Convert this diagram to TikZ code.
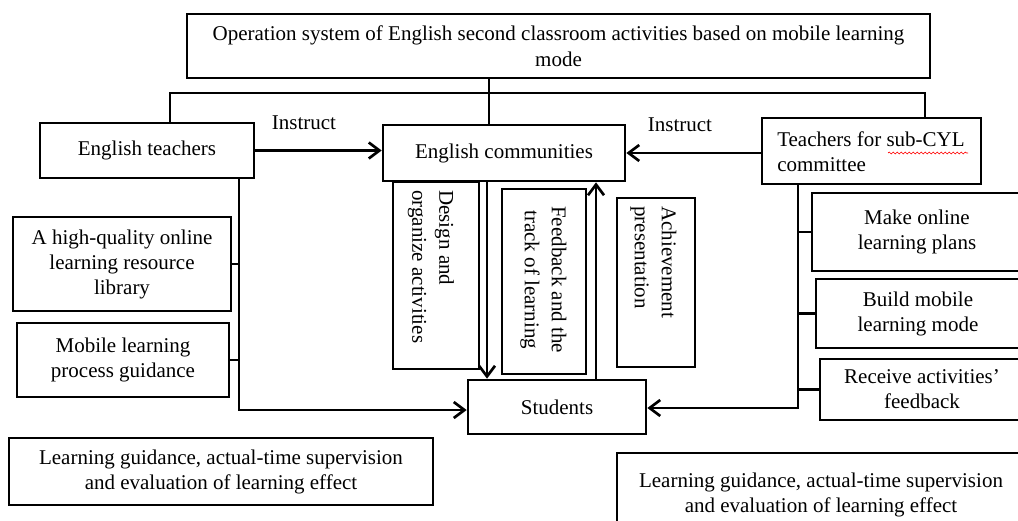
\documentclass[tikz,border=0pt]{standalone}
\usepackage{fontspec}
\setmainfont{Liberation Serif}
\usetikzlibrary{arrows.meta,decorations.pathmorphing}
\tikzset{
  bx/.style 2 args={draw, line width=2pt, minimum width=#1*0.75pt, minimum height=#2*0.75pt, inner sep=0pt, align=center,
    font=\fontsize{15.75pt}{18.75pt}\selectfont},
  txt/.style={inner sep=0pt, font=\fontsize{15.75pt}{18.75pt}\selectfont},
  rtxt/.style={inner sep=0pt, rotate=-90, anchor=west, font=\fontsize{15.75pt}{20.25pt}\selectfont},
  ln/.style={line width=2pt},
  arr/.style={line width=2pt, -{Straight Barb[length=8pt,width=12pt,line width=2pt]}}
}
\begin{document}
\begin{tikzpicture}[x=0.75pt,y=-0.75pt]
\useasboundingbox (0,0) rectangle (1018,521);
\clip (0,0) rectangle (1018,521);
% boxes
\node[bx={743}{64}, font=\fontsize{15.75pt}{19.5pt}\selectfont] (title) at (558.5,46) {Operation system of English second classroom activities based on mobile learning\\mode};
\node[bx={214}{55}] (et) at (147,150.5) {English teachers};
\node[bx={242}{56}] (ec) at (504,153) {English communities};
\node[bx={219}{66}] (tc) at (871.5,151) {};
\node[txt, anchor=west, align=left] (tct) at (777,151.5) {Teachers for sub-CYL\\committee};
\node[bx={218}{94}] (hq) at (122,264) {A high-quality online\\learning resource\\library};
\node[bx={212}{74}] (mb) at (123,360) {Mobile learning\\process guidance};
\node[bx={86}{187}] (ds) at (436,275.5) {};
\node[rtxt, align=left] (dst) at (431,190) {Design and\\organize activities};
\node[bx={84}{185}] (fb) at (544,281.5) {};
\node[rtxt, align=center] (fbt) at (543.5,206) {Feedback and the\\track of learning};
\node[bx={78}{169}] (ac) at (656,282.5) {};
\node[rtxt, align=left] (act) at (653.5,206) {Achievement\\presentation};
\node[bx={178}{54}] (st) at (557,407) {Students};
\node[bx={210}{78}] (mo) at (917,232) {Make online\\learning plans};
\node[bx={204}{69}] (bm) at (918,313.5) {Build mobile\\learning mode};
\node[bx={204}{61}] (rf) at (922,389.5) {Receive activities'\\feedback};
\node[bx={424}{67}] (bl) at (221,471.5) {Learning guidance, actual-time supervision\\and evaluation of learning effect};
\node[bx={408}{84}] (br) at (821,495) {Learning guidance, actual-time supervision\\and evaluation of learning effect};
% labels
\node[txt] (ins1) at (304,123) {Instruct};
\node[txt] (ins2) at (680,125) {Instruct};
% spell-check underline
\coordinate (sq1) at (888,153);
\coordinate (sq2) at (968,153);
\draw[red, line width=0.5pt, decorate, decoration={snake, amplitude=0.7pt, segment length=3pt}] (sq1) -- (sq2);
% coordinates
\coordinate (hl) at (170,93);
\coordinate (hm) at (489,93);
\coordinate (hr) at (925,93);
\coordinate (lc) at (239,410);
\coordinate (rc) at (798,408);
\coordinate (dn) at (487,300);
\coordinate (up) at (596,300);
% connectors
\draw[ln] (hm |- title.south) -- (hm |- ec.north);
\draw[ln] (hl |- et.north) -- (hl) -- (hr) -- (hr |- tc.north);
\draw[arr] (et.east) -- (et.east -| ec.west);
\draw[arr] (ec.east -| tc.west) -- (ec.east);
\draw[arr] (lc |- et.south) -- (lc) -- (lc -| st.west);
\draw[ln] (hq.east) -- (hq.east -| lc);
\draw[ln] (mb.east) -- (mb.east -| lc);
\draw[arr] (rc |- tc.south) -- (rc) -- (rc -| st.east);
\draw[ln] (mo.west) -- (mo.west -| rc);
\draw[ln] (bm.west) -- (bm.west -| rc);
\draw[ln] (rf.west) -- (rf.west -| rc);
\draw[arr] (dn |- ec.south) -- (dn |- st.north);
\draw[arr] (up |- st.north) -- (up |- ec.south);
\end{tikzpicture}
\end{document}
